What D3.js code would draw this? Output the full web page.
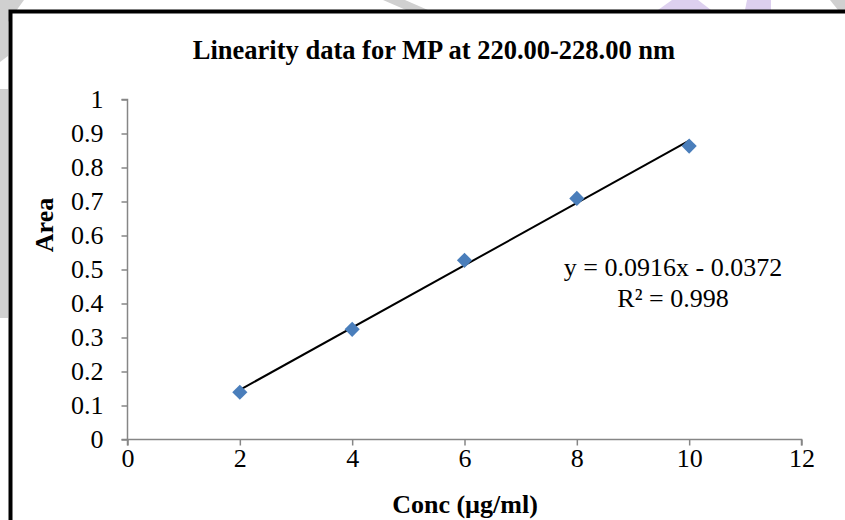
<!DOCTYPE html>
<html><head><meta charset="utf-8">
<script src="https://cdn.jsdelivr.net/npm/d3@7"></script>
<style>html,body{margin:0;padding:0;background:#fff;}svg{display:block;}</style>
</head><body>
<svg id="c" width="845" height="520"></svg>
<script>
const concValues = [2, 4, 6, 8, 10];
const areaValues = [0.139, 0.324, 0.527, 0.709, 0.863];
const xTicks = [0, 2, 4, 6, 8, 10, 12];
const yTicks = [0, 0.1, 0.2, 0.3, 0.4, 0.5, 0.6, 0.7, 0.8, 0.9, 1];
const slope = 0.0916, intercept = -0.0372;
const titleText = "Linearity data for MP at 220.00-228.00 nm";
const xTitle = "Conc (\u00b5g/ml)";
const yTitle = "Area";
const eqLines = ["y = 0.0916x - 0.0372", "R\u00b2 = 0.998"];

const svg = d3.select("#c");
const serif = "'Liberation Serif','Times New Roman',Times,serif";

// background decorations (watermark pieces outside chart frame)
const deco = [
  {pts:[[0,0],[24,0],[8,22],[8,56],[0,62]], c:"#d0d0d0"},
  {pts:[[0,89],[8,89],[8,318],[0,318]], c:"#d0d0d0"},
  {pts:[[383,0],[405,0],[428,10],[406,10]], c:"#d0d0d0"},
  {pts:[[672,0],[698,0],[711,10],[658,10]], c:"#ddd0ef"},
  {pts:[[747,0],[771,0],[771,10],[745,10]], c:"#ddd0ef"},
  {pts:[[830,0],[845,0],[845,10],[838,10]], c:"#d0d0d0"}
];
svg.selectAll("polygon.deco").data(deco).enter().append("polygon")
  .attr("points", d => d.pts.map(p => p.join(",")).join(" "))
  .attr("fill", d => d.c);

// chart frame
svg.append("rect").attr("x", 10.5).attr("y", 11.5).attr("width", 900).attr("height", 600)
  .attr("fill", "#fff").attr("stroke", "#000").attr("stroke-width", 4);

const x = d3.scaleLinear().domain([0, 12]).range([127.5, 801.5]);
const y = d3.scaleLinear().domain([0, 1]).range([439.5, 99.5]);

const axisColor = "#868686";
const fs = "26px";
const gx = svg.append("g").attr("transform", `translate(0,${y(0)})`)
  .call(d3.axisBottom(x).tickValues(xTicks).tickSize(6).tickPadding(3).tickFormat(d3.format("d")));
const gy = svg.append("g").attr("transform", `translate(${x(0)},0)`)
  .call(d3.axisLeft(y).tickValues(yTicks).tickSize(6).tickPadding(18).tickFormat(d => d === 0 ? "0" : d === 1 ? "1" : d3.format(".1f")(d)));
[gx, gy].forEach(g => {
  g.select(".domain").attr("stroke", axisColor).attr("stroke-width", 1.5);
  g.selectAll(".tick line").attr("stroke", axisColor).attr("stroke-width", 1.5);
  g.selectAll(".tick text").attr("fill", "#000").style("font-family", serif).style("font-size", fs);
});
gy.select(".domain").attr("d", `M-6,${y(1)}H0V${y(0)}H-6`);
gx.select(".domain").attr("d", `M${x(0)},6V0H${x(12)}V6`);

// trendline
svg.append("line")
  .attr("x1", x(concValues[0])).attr("y1", y(slope * concValues[0] + intercept))
  .attr("x2", x(concValues[concValues.length - 1])).attr("y2", y(slope * concValues[concValues.length - 1] + intercept))
  .attr("stroke", "#000").attr("stroke-width", 2);

// markers
const diamond = d3.symbol().type(d3.symbolSquare).size(115);
svg.selectAll("path.pt").data(concValues).enter().append("path")
  .attr("class", "pt")
  .attr("d", diamond)
  .attr("transform", (d, i) => `translate(${x(d)},${y(areaValues[i])}) rotate(45)`)
  .attr("fill", "#4a7ebb");

// title
svg.append("text").attr("x", 434).attr("y", 59).attr("text-anchor", "middle")
  .style("font-family", serif).style("font-weight", "bold").style("font-size", "26.5px")
  .text(titleText);

// axis titles
svg.append("text").attr("x", 465).attr("y", 513).attr("text-anchor", "middle")
  .style("font-family", serif).style("font-weight", "bold").style("font-size", fs)
  .text(xTitle);
svg.append("text").attr("transform", "translate(53,225) rotate(-90)").attr("text-anchor", "middle")
  .style("font-family", serif).style("font-weight", "bold").style("font-size", fs)
  .text(yTitle);

// equation
svg.selectAll("text.eq").data(eqLines).enter().append("text")
  .attr("class", "eq")
  .attr("x", 673).attr("y", (d, i) => 276 + i * 31).attr("text-anchor", "middle")
  .style("font-family", serif).style("font-size", fs)
  .text(d => d);
</script>
</body></html>
